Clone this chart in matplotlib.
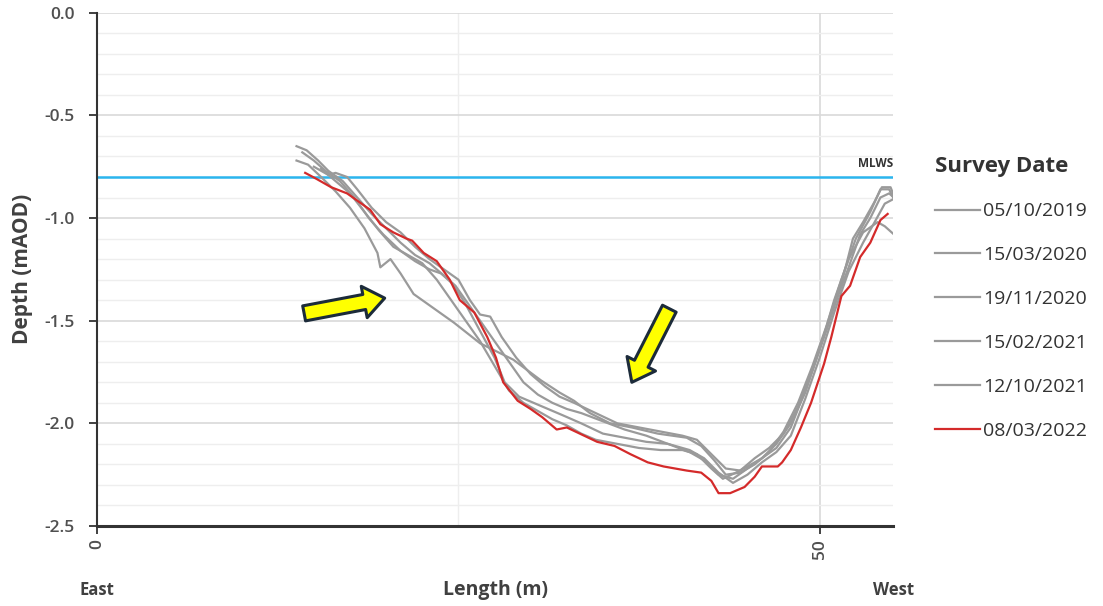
import numpy as np
import matplotlib.pyplot as plt

plt.rcParams['font.family'] = ['Open Sans', 'DejaVu Sans']

# survey profiles, chainage (m) and depth (mAOD)
dates = ['05/10/2019', '15/03/2020', '19/11/2020', '15/02/2021', '12/10/2021', '08/03/2022']

x_2019 = [13.8, 14.5, 15.3, 16.0, 17.0, 18.0, 19.0, 20.0, 21.0, 22.0, 23.0, 24.0, 24.8, 25.5, 26.5,
          27.5, 28.5, 29.5, 30.5, 31.5, 32.5, 33.5, 35.0, 36.5, 38.0, 39.5, 41.0, 42.0, 43.0, 44.0,
          45.0, 46.0, 47.0, 48.0, 49.0, 50.0, 51.0, 52.0, 53.0, 54.0, 54.5, 55.3]
y_2019 = [-0.65, -0.67, -0.72, -0.77, -0.82, -0.90, -0.98, -1.05, -1.12, -1.18, -1.22, -1.28, -1.33, -1.40, -1.50,
          -1.60, -1.70, -1.80, -1.86, -1.90, -1.93, -1.95, -1.99, -2.03, -2.06, -2.10, -2.14, -2.18, -2.25, -2.27,
          -2.22, -2.17, -2.10, -2.00, -1.85, -1.64, -1.40, -1.20, -1.07, -1.02, -1.04, -1.09]

x_2020a = [13.8, 14.6, 15.5, 16.5, 17.5, 18.5, 19.4, 19.6, 20.3, 21.0, 21.9, 23.3, 24.7, 26.5, 28.8,
           30.7, 32.0, 33.0, 34.1, 35.5, 37.0, 38.8, 40.8, 41.8, 42.7, 43.5, 44.5, 45.5, 46.5, 47.5,
           48.5, 49.5, 50.5, 51.5, 52.5, 53.5, 54.2, 54.8, 55.3]
y_2020a = [-0.72, -0.74, -0.80, -0.87, -0.95, -1.05, -1.17, -1.24, -1.20, -1.27, -1.37, -1.44, -1.51, -1.61, -1.69,
           -1.79, -1.85, -1.89, -1.95, -2.00, -2.02, -2.05, -2.07, -2.11, -2.18, -2.25, -2.24, -2.20, -2.14, -2.04,
           -1.90, -1.72, -1.52, -1.30, -1.10, -0.97, -0.86, -0.86, -0.93]

x_2020b = [15.0, 16.0, 16.5, 17.3, 18.0, 19.0, 20.0, 21.0, 22.0, 23.0, 24.0, 25.0, 25.8, 26.5, 27.2,
           28.0, 29.0, 30.0, 31.0, 32.0, 33.0, 34.5, 36.0, 37.5, 39.0, 40.5, 41.5, 42.5, 43.5, 44.5,
           45.5, 46.5, 47.5, 48.5, 49.5, 50.5, 51.5, 52.3, 53.0, 53.8, 54.3, 54.9, 55.3]
y_2020b = [-0.75, -0.79, -0.78, -0.80, -0.86, -0.95, -1.02, -1.07, -1.14, -1.20, -1.25, -1.30, -1.40, -1.47, -1.48,
           -1.58, -1.68, -1.76, -1.82, -1.87, -1.90, -1.95, -2.00, -2.02, -2.04, -2.06, -2.08, -2.15, -2.22, -2.23,
           -2.17, -2.12, -2.05, -1.92, -1.74, -1.54, -1.32, -1.10, -1.02, -0.92, -0.85, -0.85, -0.92]

x_2021a = [15.5, 16.5, 17.5, 18.5, 19.5, 20.5, 21.5, 22.5, 23.5, 24.5, 25.5, 26.5, 27.5, 28.5, 29.5,
           30.5, 31.5, 32.5, 33.5, 34.5, 36.0, 37.5, 39.0, 40.5, 41.5, 42.5, 43.3, 44.2, 45.0, 46.0,
           47.0, 48.0, 49.0, 50.0, 51.0, 52.0, 52.8, 53.5, 54.2, 54.8, 55.3]
y_2021a = [-0.76, -0.82, -0.88, -0.97, -1.06, -1.14, -1.18, -1.22, -1.30, -1.40, -1.50, -1.60, -1.72, -1.84, -1.90,
           -1.94, -1.98, -2.01, -2.05, -2.08, -2.10, -2.12, -2.13, -2.13, -2.15, -2.22, -2.27, -2.24, -2.21, -2.17,
           -2.12, -2.02, -1.84, -1.63, -1.43, -1.24, -1.08, -1.00, -0.90, -0.88, -0.91]

x_2021b = [14.2, 15.0, 15.8, 16.8, 17.8, 18.8, 19.8, 21.0, 22.0, 23.0, 23.8, 24.6, 25.5, 26.5, 27.5,
           28.2, 29.2, 30.2, 31.2, 32.2, 33.5, 35.0, 36.5, 38.0, 39.5, 41.0, 42.0, 43.0, 44.0, 45.0,
           46.0, 47.0, 48.0, 49.0, 50.0, 51.0, 52.0, 53.0, 53.8, 54.5, 55.3]
y_2021b = [-0.68, -0.72, -0.77, -0.82, -0.90, -1.00, -1.08, -1.16, -1.21, -1.25, -1.27, -1.32, -1.42, -1.55, -1.68,
           -1.80, -1.87, -1.90, -1.93, -1.96, -2.00, -2.05, -2.07, -2.09, -2.10, -2.13, -2.17, -2.24, -2.29, -2.25,
           -2.19, -2.14, -2.06, -1.88, -1.68, -1.46, -1.26, -1.12, -1.02, -0.93, -0.90]

x_2022 = [14.4, 15.2, 16.2, 17.3, 18.1, 18.9, 19.6, 20.5, 21.4, 21.8, 22.6, 23.5, 24.4, 25.1, 26.1,
          27.0, 27.6, 28.1, 29.1, 30.0, 30.8, 31.8, 32.5, 33.4, 34.6, 35.8, 36.9, 38.1, 39.2, 40.8,
          41.8, 42.5, 43.0, 43.8, 44.8, 45.5, 46.0, 47.1, 47.4, 48.0, 48.7, 49.4, 50.3, 50.8, 51.5,
          52.1, 52.8, 53.5, 54.2, 54.7]
y_2022 = [-0.78, -0.81, -0.85, -0.88, -0.92, -0.96, -1.03, -1.07, -1.10, -1.11, -1.17, -1.21, -1.30, -1.40, -1.46,
          -1.58, -1.68, -1.80, -1.89, -1.93, -1.97, -2.03, -2.02, -2.05, -2.09, -2.11, -2.15, -2.19, -2.21, -2.23,
          -2.24, -2.28, -2.34, -2.34, -2.31, -2.26, -2.21, -2.21, -2.19, -2.13, -2.02, -1.90, -1.71, -1.58, -1.38,
          -1.33, -1.19, -1.12, -1.01, -0.98]

profiles = [(x_2019, y_2019), (x_2020a, y_2020a), (x_2020b, y_2020b),
            (x_2021a, y_2021a), (x_2021b, y_2021b), (x_2022, y_2022)]
colours = ['#9a9a9a'] * 5 + ['#d42a2a']

mlws = -0.80

fig = plt.figure(figsize=(11.03, 6.06), dpi=100)
ax = fig.add_axes([0.088, 0.132, 0.722, 0.847])

for (xs, ys), lab, c in zip(profiles, dates, colours):
    ax.plot(xs, ys, color=c, lw=1.6, label=lab)

ax.axhline(mlws, color='#2bb5ee', lw=1.8, zorder=1)
ax.text(1.0, mlws + 0.035, 'MLWS', transform=ax.get_yaxis_transform(), ha='right', va='bottom',
        fontsize=8.5, fontweight='bold', color='#333333')

ax.set_xlim(0, 55.1)
ax.set_ylim(-2.5, 0)
ax.set_yticks(np.arange(-2.5, 0.01, 0.5))
ax.set_yticks(np.arange(-2.5, 0.0, 0.1), minor=True)
ax.set_xticks([0, 50])
ax.set_xticks([25], minor=True)
ax.set_yticklabels(['%.1f' % v for v in np.arange(-2.5, 0.01, 0.5)])
ax.grid(which='major', color='#d9d9d9', lw=1.2, zorder=0)
ax.grid(which='minor', color='#eeeeee', lw=1.0, zorder=0)
ax.set_axisbelow(True)

for s in ['top', 'right']:
    ax.spines[s].set_visible(False)
ax.spines['left'].set_color('#333333')
ax.spines['left'].set_linewidth(1.5)
ax.spines['bottom'].set_color('#333333')
ax.spines['bottom'].set_linewidth(2.2)
ax.tick_params(which='major', length=6, width=1.3, color='#333333', labelsize=12.5, labelcolor='#505050')
ax.tick_params(axis='y', pad=10)
ax.tick_params(which='minor', length=0)
ax.tick_params(axis='x', labelrotation=90)
for t in ax.get_xticklabels() + ax.get_yticklabels():
    t.set_fontweight('semibold')

ax.set_ylabel('Depth (mAOD)', fontsize=15, fontweight='bold', color='#404040', labelpad=8)
ax.text(0.5, -0.125, 'Length (m)', transform=ax.transAxes, ha='center', va='center',
        fontsize=14, fontweight='bold', color='#404040')
ax.text(0.0, -0.125, 'East', transform=ax.transAxes, ha='center', va='center',
        fontsize=12, fontweight='bold', color='#404040')
ax.text(1.0, -0.125, 'West', transform=ax.transAxes, ha='center', va='center',
        fontsize=12, fontweight='bold', color='#404040')

# yellow pointer arrows
arrow_style = dict(arrowstyle='simple,head_length=1.5,head_width=2.3,tail_width=1.1',
                   mutation_scale=10, fc='#ffff00', ec='#1c2b3a', lw=2.2, shrinkA=0, shrinkB=0)
ax.annotate('', xy=(19.9, -1.39), xytext=(-58, -11), textcoords='offset points', arrowprops=arrow_style)
ax.annotate('', xy=(37.0, -1.80), xytext=(27, 53), textcoords='offset points', arrowprops=arrow_style)

leg = ax.legend(loc='upper left', bbox_to_anchor=(1.033, 0.752), frameon=False, fontsize=14,
                title='Survey Date', handlelength=2.3, handletextpad=0.15, labelspacing=1.33,
                alignment='left', borderpad=0.3)
leg.get_title().set_fontsize(16)
leg.get_title().set_fontweight('bold')
leg.get_title().set_color('#333333')
for t in leg.get_texts():
    t.set_color('#333333')

fig.savefig('out.png', dpi=100)
